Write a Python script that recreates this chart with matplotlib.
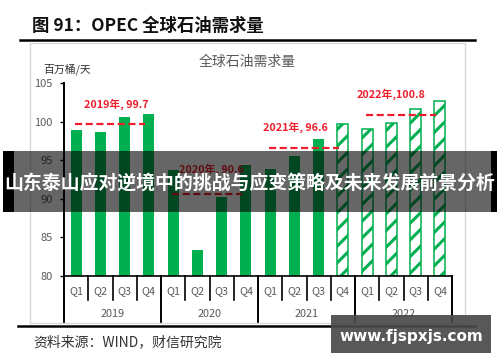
import matplotlib
matplotlib.use("Agg")
import matplotlib.pyplot as plt
from matplotlib.patches import Rectangle
from matplotlib.lines import Line2D
import matplotlib.transforms as mtransforms

plt.rcParams['font.family'] = ['Noto Sans CJK SC', 'DejaVu Sans']
plt.rcParams['hatch.linewidth'] = 2.2

# ---- data ----
years = ["2019", "2020", "2021", "2022"]
quarters = ["Q1", "Q2", "Q3", "Q4"]
demand = [98.9, 98.7, 100.6, 101.0,
          93.7, 83.4, 90.2, 94.4,
          93.9, 95.5, 97.8, 99.7,
          99.1, 99.8, 101.6, 102.7]
forecast = [False] * 11 + [True] * 5
annual_avg = [99.7, 90.6, 96.6, 100.8]
annual_labels = ["2019年, 99.7", "2020年, 90.6", "2021年, 96.6", "2022年,100.8"]
label_dx = [1.65, 1.6, 1.05, 1.0]
label_dy = [2.6, 3.2, 2.7, 2.8]
yticks = [80, 85, 90, 95, 100, 105]

W, H = 500, 362
fig = plt.figure(figsize=(W / 100, H / 100), dpi=100)
fig.patch.set_facecolor('white')

def fx(x):
    return x / W

def fy(y):
    return 1 - y / H

GREEN = '#00B050'
RED = '#F01E2C'
GRAY = '#595959'

# outer frame (light gray)
fig.add_artist(Rectangle((fx(30), fy(323)), fx(465) - fx(30), fy(43) - fy(323),
                         transform=fig.transFigure, fill=False,
                         edgecolor='#D9D9D9', linewidth=1.0, zorder=1))

# top title and rules
fig.text(fx(32), fy(26), "图 91：OPEC 全球石油需求量", fontsize=12.5,
         fontweight='bold', color='#111111', va='center', ha='left')
fig.add_artist(Line2D([fx(20), fx(475)], [fy(39.5), fy(39.5)],
                      transform=fig.transFigure, color='black', linewidth=1.8))
fig.add_artist(Line2D([fx(18), fx(475)], [fy(326), fy(326)],
                      transform=fig.transFigure, color='black', linewidth=1.8))
fig.text(fx(33), fy(342), "资料来源：WIND，财信研究院", fontsize=10,
         color='#333333', va='center', ha='left', style='italic')

# chart title and unit
fig.text(fx(247), fy(62), "全球石油需求量", fontsize=10, color=GRAY,
         ha='center', va='center')
fig.text(fx(43), fy(69), "百万桶/天", fontsize=7.8, color='#333333',
         ha='left', va='center')

ax = fig.add_axes([fx(64), fy(276), fx(452) - fx(64), fy(83) - fy(276)])
ax.set_facecolor('none')
n = len(demand)
xs = list(range(n))
for i, (v, f) in enumerate(zip(demand, forecast)):
    if f:
        ax.bar(i, v - 80, bottom=80, width=0.46, facecolor='white',
               edgecolor=GREEN, hatch='//', linewidth=1.1, zorder=2)
    else:
        ax.bar(i, v - 80, bottom=80, width=0.46, color=GREEN,
               linewidth=0, zorder=2)

ax.set_xlim(-0.5, n - 0.5)
ax.set_ylim(80, 105)
ax.set_yticks(yticks)
ax.set_yticklabels([str(t) for t in yticks], fontsize=8, color=GRAY)
ax.tick_params(axis='y', direction='out', length=3, width=1.0, color='black', pad=5)
ax.set_xticks([])
for s in ['top', 'right']:
    ax.spines[s].set_visible(False)
ax.spines['left'].set_linewidth(1.4)
ax.spines['bottom'].set_linewidth(1.2)

# annual average lines and labels
for k, (avg, lab) in enumerate(zip(annual_avg, annual_labels)):
    i0 = 4 * k
    ax.plot([i0 - 0.05, i0 + 2.85], [avg, avg], color=RED, linewidth=1.6,
            dashes=(3.2, 1.6), zorder=3)
    ax.text(i0 + label_dx[k], avg + label_dy[k], lab, color=RED, fontsize=7.8,
            fontweight='bold', ha='center', va='center', zorder=4)

# two-level category axis
trans = mtransforms.blended_transform_factory(ax.transData, ax.transAxes)
q_depth = -24 / 193
y_depth = -46 / 193
for b in range(n + 1):
    xb = b - 0.5
    depth = y_depth if b % 4 == 0 else q_depth
    ax.plot([xb, xb], [0, depth], transform=trans, color='black',
            linewidth=1.4 if b % 4 == 0 else 1.2, clip_on=False, zorder=3)
for i in xs:
    ax.text(i, -15 / 193, quarters[i % 4], transform=trans, ha='center',
            va='center', fontsize=7.8, color=GRAY)
for k, yr in enumerate(years):
    ax.text(4 * k + 1.5, -38 / 193, yr, transform=trans, ha='center',
            va='center', fontsize=7.8, color=GRAY)

# overlay banner
fig.add_artist(Rectangle((fx(3), fy(212)), fx(497) - fx(3), fy(151) - fy(212),
                         transform=fig.transFigure, facecolor='black',
                         alpha=0.6, edgecolor='none', zorder=10))
fig.add_artist(Rectangle((fx(3), fy(212)), fx(14) - fx(3), fy(151) - fy(212),
                         transform=fig.transFigure, facecolor='black',
                         edgecolor='none', zorder=10))
fig.add_artist(Rectangle((fx(491), fy(212)), fx(497) - fx(491), fy(151) - fy(212),
                         transform=fig.transFigure, facecolor='black',
                         edgecolor='none', zorder=10))
fig.text(fx(250), fy(183), "山东泰山应对逆境中的挑战与应变策略及未来发展前景分析",
         fontsize=13.6, fontweight='bold', color='white', ha='center',
         va='center', zorder=11)

# watermark
fig.add_artist(Rectangle((fx(331), fy(353)), fx(491) - fx(331), fy(315) - fy(353),
                         transform=fig.transFigure, facecolor='#4a4a4a',
                         alpha=0.92, edgecolor='none', zorder=10))
fig.text(fx(411), fy(336), "www.fjspxjs.com", fontsize=11, fontweight='bold',
         color='white', ha='center', va='center', zorder=11,
         family=['DejaVu Sans'])

fig.savefig("out.png", dpi=100, facecolor='white')
